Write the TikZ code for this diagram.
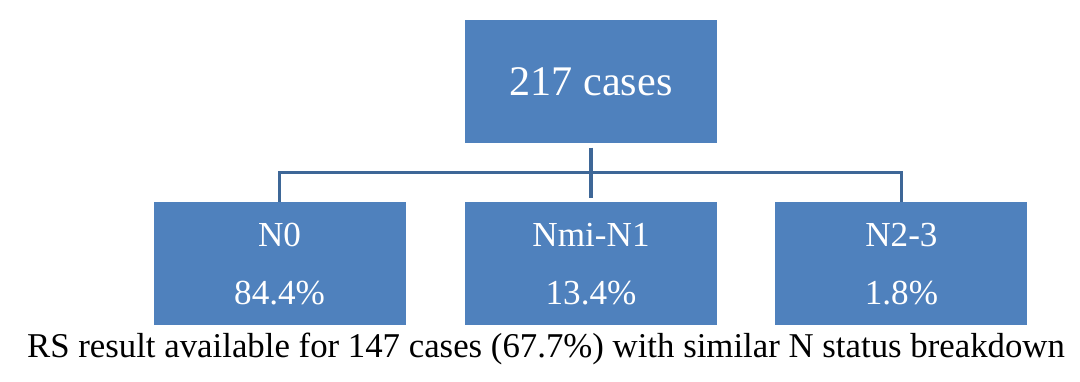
\documentclass[tikz,border=0pt]{standalone}
\usepackage{fontspec}
\setmainfont{Liberation Serif}
\usepackage{tikz}
\usetikzlibrary{positioning, calc}

\definecolor{boxblue}{HTML}{4F81BD}
\definecolor{lineblue}{HTML}{3E6797}

\begin{document}
\begin{tikzpicture}[
    node distance=0.58cm,
    link/.style={draw=lineblue, line width=0.9pt},
    casebox/.style={fill=boxblue, text=white, align=center, inner sep=0pt},
    topbox/.style={casebox, minimum width=2.52cm, minimum height=1.23cm, font=\fontsize{12}{14}\selectfont},
    nbox/.style={casebox, minimum width=2.52cm, minimum height=1.23cm, font=\fontsize{10}{16.5}\selectfont}]

    \useasboundingbox (0,0) rectangle (10.8,3.82);

    \node at (5.91,3.005)[topbox] (total) {217 cases};

    \node [nbox, below=of total] (nmi) {Nmi-N1\\13.4\%};
    \node [nbox, left=of nmi] (nzero) {N0\\84.4\%};
    \node [nbox, right=0.57cm of nmi] (ntwo) {N2-3\\1.8\%};

    \node at (5.46,0.33) [font=\fontsize{9.9}{12}\selectfont] (note) {RS result available for 147 cases (67.7\%) with similar N status breakdown};

    %%% tree lines
    \coordinate (bus) at ($(total.south)!0.5!(nmi.north)$);
    \path (total.south) edge [link, shorten <=0.04cm, shorten >=0.04cm] (nmi.north);
    \draw [link] (nzero.north) |- (bus) -| (ntwo.north);

\end{tikzpicture}
\end{document}
